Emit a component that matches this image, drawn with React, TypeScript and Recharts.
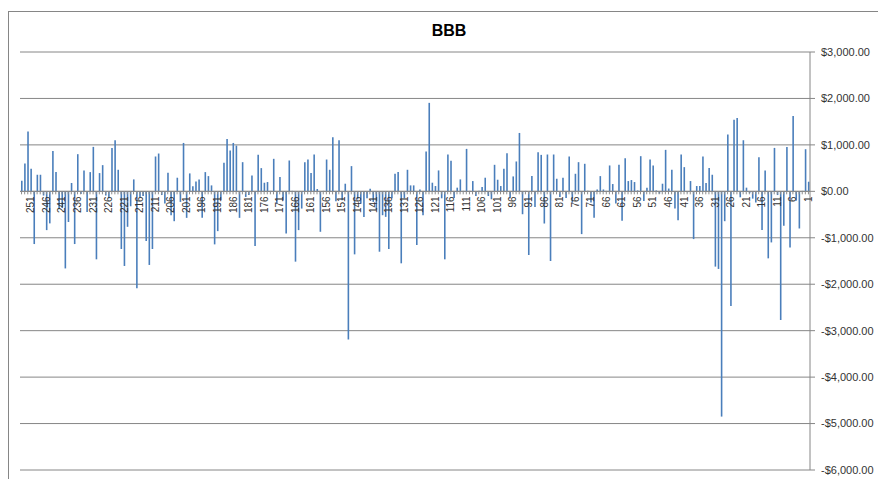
import { Bar, BarChart, CartesianGrid, ReferenceLine, XAxis, YAxis } from "recharts"

// categories run 254 -> 1 from left to right, as in the picture
const categories = Array.from({ length: 254 }, (_, i) => 254 - i)

// values, left to right (category 254 down to 1)
const profit = [
  230, 600, 1290, 485, -1135, 357, 357, -90, -835, -690,
  871, 414, -380, -360, -1660, -660, 180, -1135, 800, -60,
  450, -443, 414, 957, -1464, 393, 564, -90, -150, 935,
  1100, 464, -1242, -1607, -764, -321, 257, -2085, -130, -100,
  -1070, -1585, -1242, 750, 814, -80, -264, 400, -514, -643,
  293, -228, 1042, -571, 386, 107, 214, 257, -571, 414,
  328, 128, -1142, -857, -193, 614, 1128, 878, 1042, 985,
  -571, 628, -121, -80, 343, -1178, 785, 500, 186, 200,
  10, 700, -264, 307, -200, -907, 664, 10, -1514, -835,
  -371, 628, 685, 393, 793, 50, -871, 10, 685, 464,
  1164, -214, 1100, -193, 164, -3190, 543, -1357, -171, -264,
  -550, -150, 57, -228, -393, -1300, -514, -550, -1242, -150,
  378, 414, -1550, -150, 464, 128, 128, -1157, 40, -514,
  857, 1905, 186, 114, 450, -150, -1464, 793, 657, -143,
  79, 257, 10, 914, 10, 221, -100, 10, 93, 293,
  -100, -171, 571, 250, 114, 486, 821, -150, 321, 643,
  1257, -493, 10, -1371, 328, -335, 843, 785, -693, 793,
  -1500, 793, 271, -121, 293, -143, 750, -243, 378, 628,
  -921, 593, 10, -243, -571, 40, 328, 40, 10, 557,
  157, -264, 571, -636, 714, 221, 243, 200, 20, 757,
  -207, 79, 685, 557, 20, -50, 164, 893, 60, 464,
  -371, -621, 793, 521, -20, 221, -1028, 114, 114, 750,
  178, 500, 357, -1621, -1671, -4850, -643, 1221, -2470, 1543,
  1578, -128, 1100, 79, -40, -157, -243, 735, -835, 450,
  -1443, -1100, 935, -80, -2770, -743, 957, -1207, 1620, -200,
  -800, 10, 907, 207,
]

const yTicks = [-6000, -5000, -4000, -3000, -2000, -1000, 0, 1000, 2000, 3000]
const labelStep = 5

const data = categories.map((k, i) => ({ k, profit: profit[i] }))

const W = 878
const H = 473
const margin = { top: 40, right: 7, bottom: 14, left: 11 }
const plotH = H - margin.top - margin.bottom - 1
const zeroY = margin.top + (plotH * yTicks[yTicks.length - 1]) / (yTicks[yTicks.length - 1] - yTicks[0])

const money = (v: number) =>
  (v < 0 ? "-$" : "$") + Math.abs(v).toLocaleString("en-US", { minimumFractionDigits: 2, maximumFractionDigits: 2 })

function CategoryTick(props: any) {
  const { x, payload } = props
  const k = payload.value
  const ty = zeroY + 5
  return (
    <g>
      <line x1={x} x2={x} y1={zeroY} y2={zeroY + 3} stroke="#8c8c8c" strokeWidth={1} />
      {(k - 1) % labelStep === 0 && (
        <text
          x={x}
          y={ty}
          transform={`rotate(-90 ${x} ${ty})`}
          textAnchor="end"
          dy="0.35em"
          fontSize={10}
          fontFamily="Liberation Sans, Arial, sans-serif"
          fill="#333"
        >
          {k}
        </text>
      )}
    </g>
  )
}

export default function App() {
  return (
    <>
      <style>{"html,body{overflow:hidden}"}</style>
      <div
        style={{
          position: "absolute",
          left: 8,
          top: 11,
          width: W + 2,
          height: H + 2,
          border: "1px solid #868686",
          background: "#fff",
          fontFamily: "Liberation Sans, Arial, sans-serif",
        }}
      >
        <div
          style={{
            position: "absolute",
            left: 0,
            right: 0,
            top: 10,
            textAlign: "center",
            fontWeight: "bold",
            fontSize: 16,
            color: "#000",
          }}
        >
          BBB
        </div>
        <BarChart width={W} height={H} data={data} margin={margin} barSize={1.6}>
          <CartesianGrid vertical={false} stroke="#868686" strokeDasharray="" />
          <XAxis
            dataKey="k"
            interval={0}
            height={1}
            axisLine={false}
            tickLine={false}
            tick={<CategoryTick />}
          />
          <YAxis
            orientation="right"
            domain={[yTicks[0], yTicks[yTicks.length - 1]]}
            ticks={yTicks}
            width={70}
            tickFormatter={money}
            axisLine={{ stroke: "#868686" }}
            tickLine={{ stroke: "#868686" }}
            tickSize={5}
            tickMargin={6}
            tick={{ fontSize: 11, fill: "#333", fontFamily: "Liberation Sans, Arial, sans-serif" }}
          />
          <ReferenceLine y={0} stroke="#868686" />
          <Bar dataKey="profit" fill="#4a7ebb" isAnimationActive={false} />
        </BarChart>
      </div>
    </>
  )
}
